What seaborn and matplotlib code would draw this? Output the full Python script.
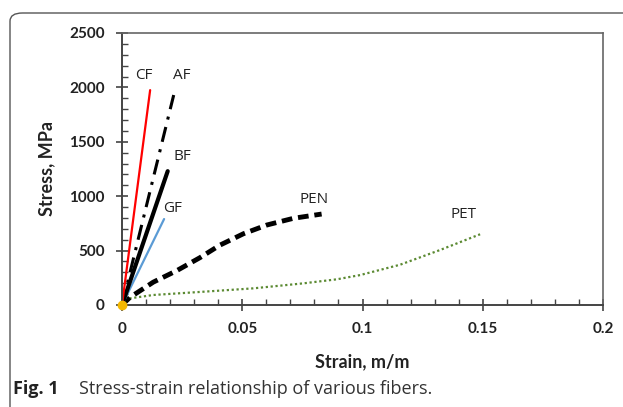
import matplotlib
matplotlib.use("Agg")
import matplotlib.pyplot as plt
import numpy as np
import pandas as pd
import seaborn as sns
from matplotlib.patches import FancyBboxPatch
from matplotlib.ticker import MultipleLocator

# Values
cf_strain = [0.0, 0.0117]
cf_stress = [0, 1975]

af_strain = [0.0, 0.0215]
af_stress = [0, 1930]

bf_strain = [0.0, 0.0190]
bf_stress = [0, 1230]

gf_strain = [0.0, 0.0175]
gf_stress = [0, 790]

pen_strain = [0.0, 0.0033, 0.013, 0.0227, 0.0324, 0.0407, 0.0505, 0.0602, 0.0713, 0.083]
pen_stress = [0, 70, 210, 315, 435, 550, 655, 735, 797, 836]

pet_strain = [0.0, 0.0033, 0.013, 0.0338, 0.0546, 0.0754, 0.0893, 0.099, 0.1156, 0.1322, 0.1489]
pet_stress = [0, 61, 92, 122, 153, 199, 236, 275, 370, 505, 650]

labels = ["CF", "AF", "BF", "GF", "PEN", "PET"]
label_pos = [(0.009, 2040), (0.025, 2040), (0.025, 1300), (0.021, 820),
             (0.080, 900), (0.142, 760)]

sns.set_style("ticks")
plt.rcParams['font.family'] = ['Lato', 'DejaVu Sans']

fig = plt.figure(figsize=(6.23, 4.07), dpi=100)
ax = fig.add_axes([122 / 623, 1 - 305 / 407, 481 / 623, 272 / 407])

sns.lineplot(x=pet_strain, y=pet_stress, ax=ax, color="#5b8a32", lw=1.6,
             linestyle=(0, (1, 1.2)), sort=False)
sns.lineplot(x=pen_strain, y=pen_stress, ax=ax, color="black", lw=3.5,
             linestyle=(0, (2.2, 1.2)), sort=False)
sns.lineplot(x=gf_strain, y=gf_stress, ax=ax, color="#5b9bd5", lw=1.6, sort=False)
sns.lineplot(x=bf_strain, y=bf_stress, ax=ax, color="black", lw=3, sort=False)
sns.lineplot(x=af_strain, y=af_stress, ax=ax, color="black", lw=2.2,
             linestyle=(0, (5, 2.5, 1, 2.5)), sort=False)
sns.lineplot(x=cf_strain, y=cf_stress, ax=ax, color="#ff0000", lw=1.6, sort=False)
ax.plot([0], [0], marker="o", color="#f5b800", ms=6, clip_on=False, zorder=5)

for name, (lx, ly) in zip(labels, label_pos):
    ax.text(lx, ly, name, fontsize=11, color="#222222", ha="center",
            va="bottom", family=["Open Sans", "DejaVu Sans"])

ax.set_xlim(0, 0.2)
ax.set_ylim(0, 2500)
ax.xaxis.set_major_locator(MultipleLocator(0.05))
ax.xaxis.set_minor_locator(MultipleLocator(0.01))
ax.yaxis.set_major_locator(MultipleLocator(500))
ax.yaxis.set_minor_locator(MultipleLocator(100))
ax.set_xticks([0, 0.05, 0.1, 0.15, 0.2])
ax.set_xticklabels(["0", "0.05", "0.1", "0.15", "0.2"])

for side in ["left", "bottom"]:
    ax.spines[side].set_color("#444444")
    ax.spines[side].set_linewidth(1.4)
for side in ["top", "right"]:
    ax.spines[side].set_color("#666666")
    ax.spines[side].set_linewidth(1.2)

ax.tick_params(which="major", direction="inout", length=9, width=1.2,
               color="#444444", labelsize=11, pad=8)
ax.tick_params(which="minor", direction="in", length=4, width=1,
               color="#444444")
for t in ax.get_xticklabels() + ax.get_yticklabels():
    t.set_fontweight("bold")
    t.set_color("#222222")

ax.set_xlabel("Strain, m/m", fontsize=13, fontweight="bold", color="#222222",
              labelpad=12)
ax.set_ylabel("Stress, MPa", fontsize=13, fontweight="bold", color="#222222",
              labelpad=10)

# rounded frame around the figure panel
frame = FancyBboxPatch((10 / 623, -0.2), 1.2, 1 - 13 / 407 + 0.2,
                       boxstyle="round,pad=0,rounding_size=0.02",
                       transform=fig.transFigure, fill=False,
                       edgecolor="#555555", lw=1.0, clip_on=False)
fig.patches.append(frame)

fig.text(13 / 623, 1 - 394 / 407, "Fig. 1", fontsize=13, fontweight="bold",
         color="#222222", family=["Open Sans", "DejaVu Sans"])
fig.text(79 / 623, 1 - 394 / 407, "Stress-strain relationship of various fibers.",
         fontsize=13, color="#333333", family=["Open Sans", "DejaVu Sans"])

fig.savefig("out.png", dpi=100)
